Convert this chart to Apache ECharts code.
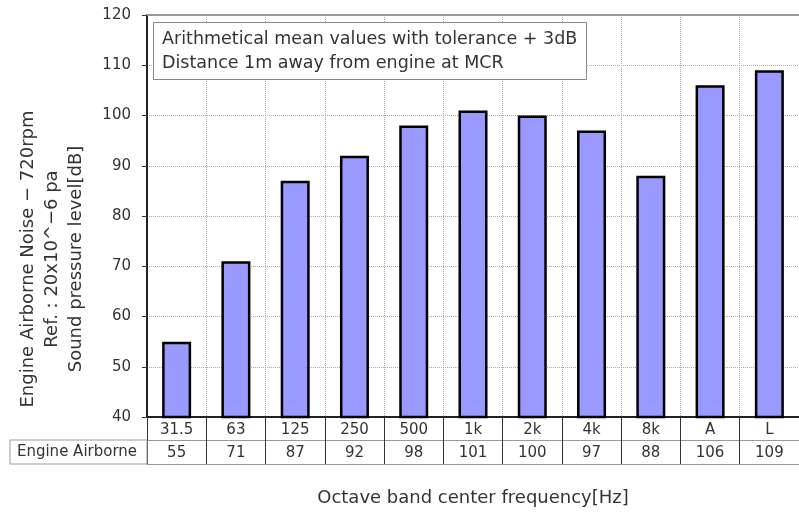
<!DOCTYPE html>
<html>
<head>
<meta charset="utf-8">
<script src="https://cdn.jsdelivr.net/npm/echarts@6/dist/echarts.min.js"></script>
<style>
html,body{margin:0;padding:0;background:#fff;}
#chart{width:799px;height:513px;}
</style>
</head>
<body>
<div id="chart"></div>
<script>
// ---- data ----
const categories = ['31.5', '63', '125', '250', '500', '1k', '2k', '4k', '8k', 'A', 'L'];
const seriesName = 'Engine Airborne';
const values = [55, 71, 87, 92, 98, 101, 100, 97, 88, 106, 109];
const yTicks = [40, 50, 60, 70, 80, 90, 100, 110, 120];
const yTitleLines = ['Engine Airborne Noise \u2212 720rpm', 'Ref. : 20x10^\u22126 pa', 'Sound pressure level[dB]'];
const noteLines = ['Arithmetical mean values with tolerance + 3dB', 'Distance 1m away from engine at MCR'];
const xTitle = 'Octave band center frequency[Hz]';

const FONT = 'DejaVu Sans';
const TXT = '#333';
const chart = echarts.init(document.getElementById('chart'), null, {renderer: 'canvas'});

const gridLeft = 147, gridTop = 15, gridH = 402, gridW = 660;

chart.setOption({
  animation: false,
  backgroundColor: '#fff',
  textStyle: {fontFamily: FONT},
  title: {
    text: noteLines.join('\n'),
    left: 153, top: 22,
    padding: [5, 9, 5, 9],
    borderColor: '#888', borderWidth: 1,
    backgroundColor: '#fff',
    textStyle: {fontFamily: FONT, fontSize: 17.5, fontWeight: 'normal', color: TXT, lineHeight: 24}
  },
  grid: {left: gridLeft, top: gridTop, width: gridW, height: gridH, containLabel: false},
  xAxis: [
    {
      type: 'category', data: categories, position: 'bottom',
      axisLine: {lineStyle: {color: '#222', width: 2}},
      axisTick: {show: true, length: 47, lineStyle: {color: '#333', width: 1}},
      axisLabel: {fontSize: 15, color: TXT, margin: 6, fontFamily: FONT},
      splitLine: {show: true, lineStyle: {color: '#aaa', type: 'dotted', width: 1}}
    },
    {
      type: 'category', data: values.map(String), position: 'bottom', offset: 23,
      axisLine: {lineStyle: {color: '#999', width: 1}},
      axisTick: {show: false},
      axisLabel: {fontSize: 15, color: TXT, margin: 6, fontFamily: FONT}
    },
    {
      type: 'category', data: categories, position: 'bottom', offset: 47,
      axisLine: {lineStyle: {color: '#999', width: 1}},
      axisTick: {show: false},
      axisLabel: {show: false},
      name: xTitle, nameLocation: 'middle', nameGap: 25,
      nameTextStyle: {fontSize: 18, color: TXT, fontFamily: FONT}
    },
    {
      type: 'category', data: categories, position: 'top',
      axisLine: {lineStyle: {color: '#999', width: 2}},
      axisTick: {show: false},
      axisLabel: {show: false}
    }
  ],
  yAxis: {
    type: 'value', min: yTicks[0], max: yTicks[yTicks.length - 1], interval: 10,
    axisLine: {show: true, lineStyle: {color: '#222', width: 2}},
    axisTick: {show: true, length: 5, lineStyle: {color: '#333'}},
    axisLabel: {fontSize: 15, color: TXT, margin: 16, fontFamily: FONT},
    splitLine: {show: true, lineStyle: {color: '#aaa', type: 'dotted', width: 1}}
  },
  series: [{
    name: seriesName, type: 'bar', data: values, xAxisIndex: 0,
    barWidth: 29,
    itemStyle: {color: '#9999FF', borderColor: '#000', borderWidth: 2.5}
  }],
  graphic: [
    {
      type: 'rect', shape: {x: 10, y: 440, width: 137, height: 24},
      style: {fill: '#fff', stroke: '#999', lineWidth: 1}, z: 10
    },
    {
      type: 'text', x: 77, y: 452, z: 11,
      style: {text: seriesName, font: '15px "DejaVu Sans"', fill: TXT, align: 'center', verticalAlign: 'middle'}
    },
    ...yTitleLines.map((t, i) => ({
      type: 'text', x: 28 + i * 24, y: 259, rotation: Math.PI / 2, z: 11,
      style: {text: t, font: '18px "DejaVu Sans"', fill: TXT, align: 'center', verticalAlign: 'middle'}
    }))
  ]
});
</script>
</body>
</html>
